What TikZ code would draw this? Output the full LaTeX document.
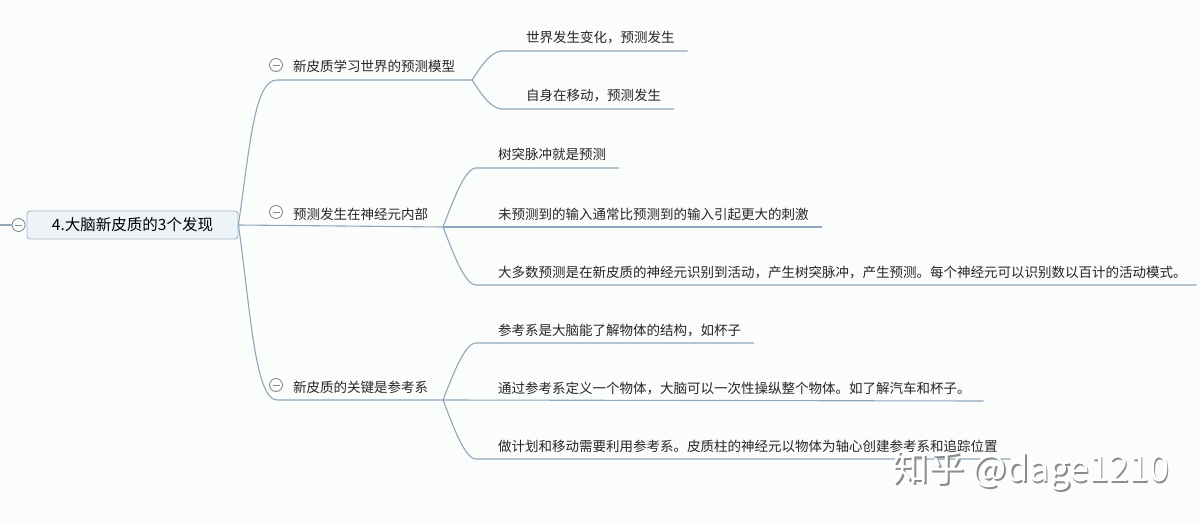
\documentclass[tikz,border=0pt]{standalone}
\usepackage{fontspec}
\setmainfont{Noto Sans CJK SC}
\usetikzlibrary{positioning}
\definecolor{linkc}{HTML}{8FA7BA}
\definecolor{rootfill}{HTML}{EEF3F7}
\definecolor{rootline}{HTML}{A3B7C7}
\definecolor{bgc}{HTML}{FBFCFC}
\definecolor{foldc}{HTML}{8C8C8C}

\begin{document}
\begin{tikzpicture}[
  x=1pt,y=-1pt,
  font=\fontsize{13.5}{16}\selectfont,
  root/.style={draw=rootline,fill=rootfill,rounded corners=3pt,line width=0.9pt,minimum width=211pt,minimum height=28pt,inner sep=0pt,font=\fontsize{15.5}{18}\selectfont},
  topic/.style={anchor=south west,inner xsep=0pt,inner ysep=6pt,text height=10pt,text depth=2pt,outer sep=0pt,text=black!85},
  fold/.style={circle,draw=foldc,line width=0.9pt,minimum size=13pt,inner sep=0pt,fill=bgc,
    path picture={\draw[foldc,line width=0.9pt] ([xshift=3pt]path picture bounding box.west) -- ([xshift=-3pt]path picture bounding box.east);}},
  link/.style={draw=linkc,line width=1.1pt},
  wmark/.style={font=\fontsize{36}{40}\selectfont,inner sep=0pt}
]
\fill[bgc] (0,0) rectangle (1200,524);
\useasboundingbox (0,0) rectangle (1200,524);

% root
\node[root] (root) at (132.5,225) {4.大脑新皮质的3个发现};
\node[fold] (root-fold) at ([xshift=-8pt]root.west) {};
\coordinate (rim) at (0,225);
\draw[link] (rim) -- (root-fold);

% main topics
\node[topic] (model) at (293,80) {新皮质学习世界的预测模型};
\node[topic] (inside) at (293,227) {预测发生在神经元内部};
\node[topic] (frame) at (293,400) {新皮质的关键是参考系};
\foreach \t in {model,inside,frame}
  \node[fold] (\t-fold) at ([xshift=-17pt,yshift=7pt]\t.text) {};
\coordinate (model-fork) at ([xshift=17pt]model.south east);
\coordinate (inside-fork) at ([xshift=15pt]inside.south east);
\coordinate (frame-fork) at ([xshift=15pt]frame.south east);

\draw[link] (root.east) .. controls ([xshift=12pt,yshift=85pt]root.east) and ([xshift=-38pt]model.south west) .. ([xshift=-16pt]model.south west) -- (model-fork);
\draw[link] (root.east) -- (inside-fork);
\draw[link] (root.east) .. controls ([xshift=12pt,yshift=-85pt]root.east) and ([xshift=-38pt]frame.south west) .. ([xshift=-16pt]frame.south west) -- (frame-fork);

% sub topics
\node[topic] (model-a) at (526,51) {世界发生变化，预测发生};
\node[topic] (model-b) at (526,109) {自身在移动，预测发生};
\node[topic] (inside-a) at (498,168) {树突脉冲就是预测};
\node[topic] (inside-b) at (498,227) {未预测到的输入通常比预测到的输入引起更大的刺激};
\node[topic] (inside-c) at (498,285) {大多数预测是在新皮质的神经元识别到活动，产生树突脉冲，产生预测。每个神经元可以识别数以百计的活动模式。};
\node[topic] (frame-a) at (498,343) {参考系是大脑能了解物体的结构，如杯子};
\node[topic] (frame-b) at (498,401) {通过参考系定义一个物体，大脑可以一次性操纵整个物体。如了解汽车和杯子。};
\node[topic] (frame-c) at (498,459) {做计划和移动需要利用参考系。皮质柱的神经元以物体为轴心创建参考系和追踪位置};

\draw[link] (model-fork) .. controls ([xshift=7pt,yshift=10pt]model-fork) and ([xshift=-36pt]model-a.south west) .. ([xshift=-24pt]model-a.south west) -- ([xshift=13pt]model-a.south east);
\draw[link] (model-fork) .. controls ([xshift=7pt,yshift=-10pt]model-fork) and ([xshift=-36pt]model-b.south west) .. ([xshift=-24pt]model-b.south west) -- ([xshift=13pt]model-b.south east);

\draw[link] (inside-fork) .. controls ([xshift=8pt,yshift=20pt]inside-fork) and ([xshift=-34pt]inside-a.south west) .. ([xshift=-22pt]inside-a.south west) -- ([xshift=13pt]inside-a.south east);
\draw[link] (inside-fork) -- ([xshift=13pt]inside-b.south east);
\draw[link] (inside-fork) .. controls ([xshift=8pt,yshift=-20pt]inside-fork) and ([xshift=-34pt]inside-c.south west) .. ([xshift=-22pt]inside-c.south west) -- ([xshift=10pt]inside-c.south east);

\draw[link] (frame-fork) .. controls ([xshift=8pt,yshift=20pt]frame-fork) and ([xshift=-34pt]frame-a.south west) .. ([xshift=-22pt]frame-a.south west) -- ([xshift=13pt]frame-a.south east);
\draw[link] (frame-fork) -- ([xshift=13pt]frame-b.south east);
\draw[link] (frame-fork) .. controls ([xshift=8pt,yshift=-20pt]frame-fork) and ([xshift=-34pt]frame-c.south west) .. ([xshift=-22pt]frame-c.south west) -- ([xshift=13pt]frame-c.south east);

% watermark
\node[wmark,text=black!45] (shade) at (1032.5,472.5) {知乎 @dage1210};
\node[wmark,text=white] (stamp) at (1031,471) {知乎 @dage1210};
\end{tikzpicture}
\end{document}
